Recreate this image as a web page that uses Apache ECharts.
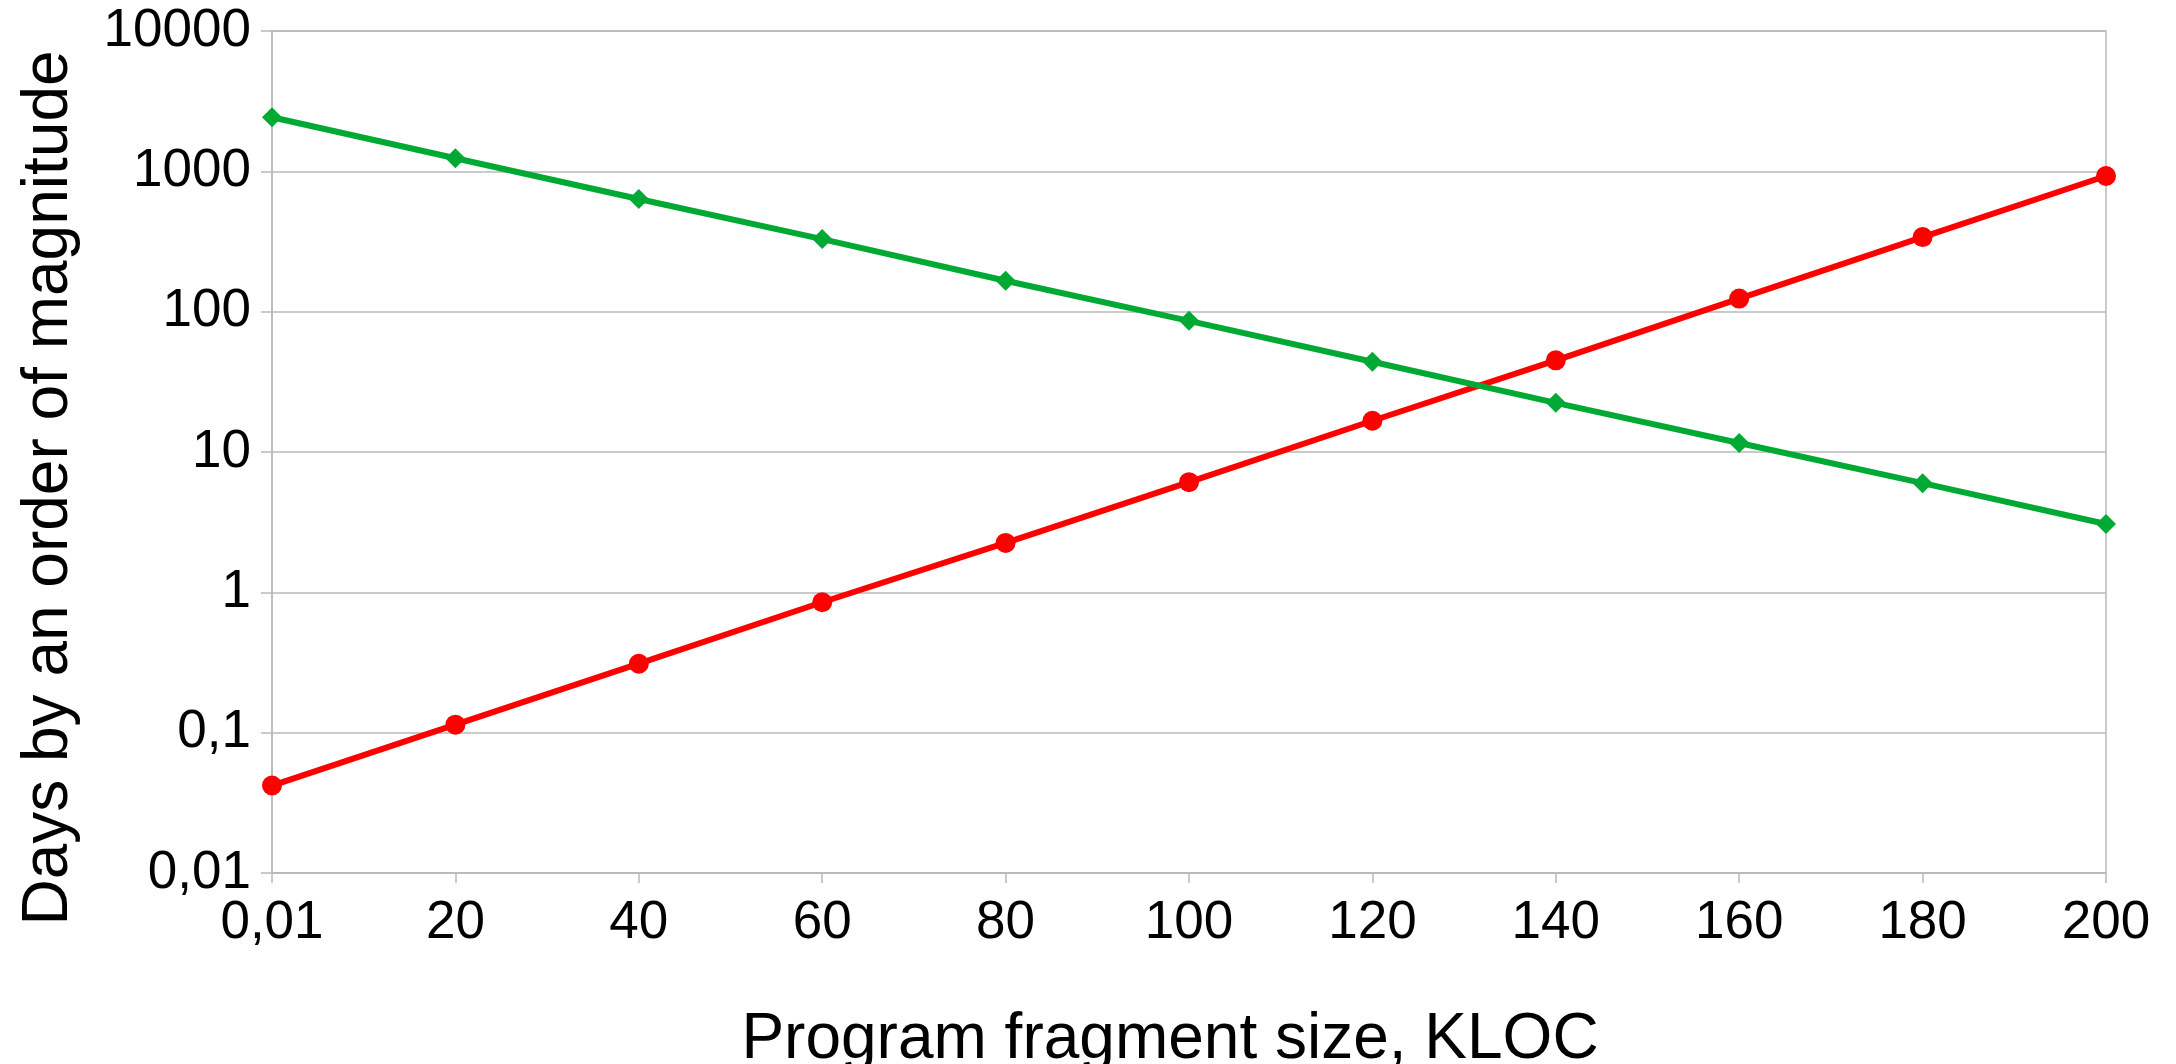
<!DOCTYPE html>
<html>
<head>
<meta charset="utf-8">
<script src="https://cdn.jsdelivr.net/npm/echarts@6/dist/echarts.min.js"></script>
<style>
  html, body { margin: 0; padding: 0; background: #fff; }
  #chart { width: 2176px; height: 1064px; }
</style>
</head>
<body>
<div id="chart"></div>
<script>
var categories = ['0,01', '20', '40', '60', '80', '100', '120', '140', '160', '180', '200'];
var greenValues = [2430, 1240, 635, 329, 166, 86, 44, 22.4, 11.6, 6.0, 3.07];
var redValues = [0.042, 0.114, 0.31, 0.85, 2.25, 6.1, 16.7, 45, 124, 340, 926];
var yTickLabels = ['0,01', '0,1', '1', '10', '100', '1000', '10000'];
var xTitle = 'Program fragment size, KLOC';
var yTitle = 'Days by an order of magnitude';

var FONT = '"Liberation Sans", Arial, sans-serif';
var GRID_COLOR = '#b9b9b9';

var chart = echarts.init(document.getElementById('chart'), null, { renderer: 'canvas' });
chart.setOption({
  animation: false,
  backgroundColor: '#ffffff',
  grid: {
    left: 272, right: 70, top: 31, bottom: 191,
    show: true, borderColor: GRID_COLOR, borderWidth: 1.5
  },
  xAxis: {
    type: 'category',
    data: categories,
    boundaryGap: false,
    axisLine: { show: true, lineStyle: { color: GRID_COLOR, width: 1.5 } },
    axisTick: { show: true, alignWithLabel: true, length: 10, lineStyle: { color: GRID_COLOR, width: 1.5 } },
    axisLabel: { color: '#000', fontFamily: FONT, fontSize: 53, margin: 24 },
    splitLine: { show: false }
  },
  yAxis: {
    type: 'log',
    logBase: 10,
    min: 0.01,
    max: 10000,
    axisLine: { show: true, lineStyle: { color: GRID_COLOR, width: 1.5 } },
    axisTick: { show: true, length: 11, lineStyle: { color: GRID_COLOR, width: 1.5 } },
    axisLabel: {
      color: '#000', fontFamily: FONT, fontSize: 53, margin: 21,
      formatter: function (v) {
        var i = Math.round(Math.log10(v)) + 2;
        return yTickLabels[i] !== undefined ? yTickLabels[i] : '';
      }
    },
    splitLine: { show: true, lineStyle: { color: GRID_COLOR, width: 1.5 } },
    minorTick: { show: false },
    minorSplitLine: { show: false }
  },
  series: [
    {
      name: 'red',
      type: 'line',
      data: redValues,
      symbol: 'circle',
      symbolSize: 20,
      lineStyle: { color: '#ff0000', width: 6 },
      itemStyle: { color: '#ff0000' },
      z: 2
    },
    {
      name: 'green',
      type: 'line',
      data: greenValues,
      symbol: 'diamond',
      symbolSize: [20, 20],
      lineStyle: { color: '#00a933', width: 6 },
      itemStyle: { color: '#00a933' },
      z: 3
    }
  ],
  graphic: [
    {
      type: 'text',
      x: 1170, y: 1040,
      style: {
        text: xTitle, fill: '#000',
        font: '64px ' + FONT,
        align: 'center', verticalAlign: 'middle'
      }
    },
    {
      type: 'text',
      x: 49, y: 488,
      rotation: Math.PI / 2,
      style: {
        text: yTitle, fill: '#000',
        font: '64px ' + FONT,
        align: 'center', verticalAlign: 'middle'
      }
    }
  ]
});
</script>
</body>
</html>
